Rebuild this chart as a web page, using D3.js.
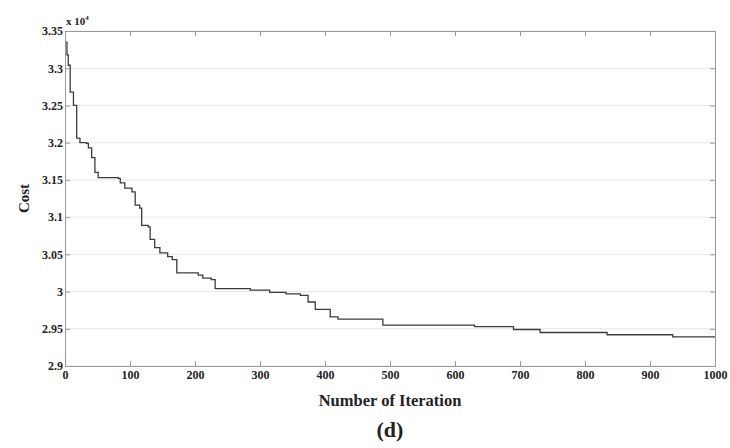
<!DOCTYPE html>
<html>
<head>
<meta charset="utf-8">
<script src="https://cdnjs.cloudflare.com/ajax/libs/d3/7.8.5/d3.min.js"></script>
<style>
  body { margin: 0; background: #fff; }
  text { font-family: "Liberation Serif", "Times New Roman", serif; font-weight: bold; fill: #222; }
</style>
</head>
<body>
<div id="chart"></div>
<script>
// iteration number where each level starts, and cost (x 10^4)
const iterations = [0, 3, 5, 8, 13, 18, 23, 33, 36, 41, 46, 51, 82, 85, 92, 103, 108, 115, 118, 128,
    131, 138, 146, 158, 165, 172, 205, 212, 225, 231, 285, 315, 340, 362, 374, 385, 408, 420, 489,
    630, 690, 731, 834, 935, 1000];
const cost = [3.335, 3.318, 3.304, 3.268, 3.25, 3.206, 3.2, 3.199, 3.193, 3.18, 3.16, 3.153, 3.152,
    3.146, 3.139, 3.134, 3.116, 3.112, 3.089, 3.087, 3.07, 3.059, 3.052, 3.047, 3.043, 3.025, 3.022,
    3.018, 3.016, 3.004, 3.002, 2.999, 2.997, 2.995, 2.986, 2.976, 2.966, 2.963, 2.955, 2.953, 2.949,
    2.945, 2.942, 2.939, 2.939];
const xTicks = [0, 100, 200, 300, 400, 500, 600, 700, 800, 900, 1000];
const yTicks = [2.9, 2.95, 3, 3.05, 3.1, 3.15, 3.2, 3.25, 3.3, 3.35];

const W = 730, H = 448;
const margin = {top: 31, right: 15, bottom: 82, left: 65};
const width = W - margin.left - margin.right;
const height = H - margin.top - margin.bottom;

const svg = d3.select("#chart").append("svg")
    .attr("width", W)
    .attr("height", H);

const g = svg.append("g")
    .attr("transform", `translate(${margin.left},${margin.top})`);

const x = d3.scaleLinear().domain([0, 1000]).range([0, width]);
const y = d3.scaleLinear().domain([2.9, 3.35]).range([height, 0]);

// horizontal grid
g.selectAll(".grid")
    .data(yTicks)
    .enter().append("line")
    .attr("x1", 0).attr("x2", width)
    .attr("y1", d => y(d)).attr("y2", d => y(d))
    .attr("stroke", "#e6e6e6")
    .attr("stroke-width", 1);

const data = iterations.map((it, i) => ({it: it, c: cost[i]}));

const line = d3.line()
    .x(d => x(d.it))
    .y(d => y(d.c))
    .curve(d3.curveStepAfter);

g.append("path")
    .datum(data)
    .attr("fill", "none")
    .attr("stroke", "#3c3c3c")
    .attr("stroke-width", 1.3)
    .attr("d", line);

// axes with inward ticks on all sides
const fmt = d => String(d);
g.append("g")
    .attr("transform", `translate(0,${height})`)
    .call(d3.axisBottom(x).tickValues(xTicks).tickFormat(fmt).tickSizeInner(-5).tickSizeOuter(0).tickPadding(4))
    .call(a => a.select(".domain").attr("stroke", "#999"))
    .call(a => a.selectAll(".tick line").attr("stroke", "#999"))
    .call(a => a.selectAll("text").attr("font-size", 12).attr("font-family", null).attr("fill", "#222"));

g.append("g")
    .call(d3.axisLeft(y).tickValues(yTicks).tickFormat(fmt).tickSizeInner(-5).tickSizeOuter(0).tickPadding(2))
    .call(a => a.select(".domain").attr("stroke", "#999"))
    .call(a => a.selectAll(".tick line").attr("stroke", "#999"))
    .call(a => a.selectAll("text").attr("font-size", 12).attr("font-family", null).attr("fill", "#222"));

g.append("g")
    .call(d3.axisTop(x).tickValues(xTicks).tickFormat("").tickSizeInner(-5).tickSizeOuter(0))
    .call(a => a.select(".domain").attr("stroke", "#999"))
    .call(a => a.selectAll(".tick line").attr("stroke", "#999"));

g.append("g")
    .attr("transform", `translate(${width},0)`)
    .call(d3.axisRight(y).tickValues(yTicks).tickFormat("").tickSizeInner(-5).tickSizeOuter(0))
    .call(a => a.select(".domain").attr("stroke", "#999"))
    .call(a => a.selectAll(".tick line").attr("stroke", "#999"));

// exponent label
const ex = g.append("text")
    .attr("x", 1)
    .attr("y", -6)
    .attr("font-size", 11);
ex.append("tspan").text("x 10");
ex.append("tspan").attr("dy", -5).attr("font-size", 7).text("4");

svg.append("text")
    .attr("transform", `translate(29,${margin.top + height / 2}) rotate(-90)`)
    .attr("text-anchor", "middle")
    .attr("font-size", 15)
    .text("Cost");

svg.append("text")
    .attr("x", margin.left + width / 2)
    .attr("y", 406)
    .attr("text-anchor", "middle")
    .attr("font-size", 16.5)
    .text("Number of Iteration");

svg.append("text")
    .attr("x", margin.left + width / 2)
    .attr("y", 437)
    .attr("text-anchor", "middle")
    .attr("font-size", 22)
    .text("(d)");
</script>
</body>
</html>
